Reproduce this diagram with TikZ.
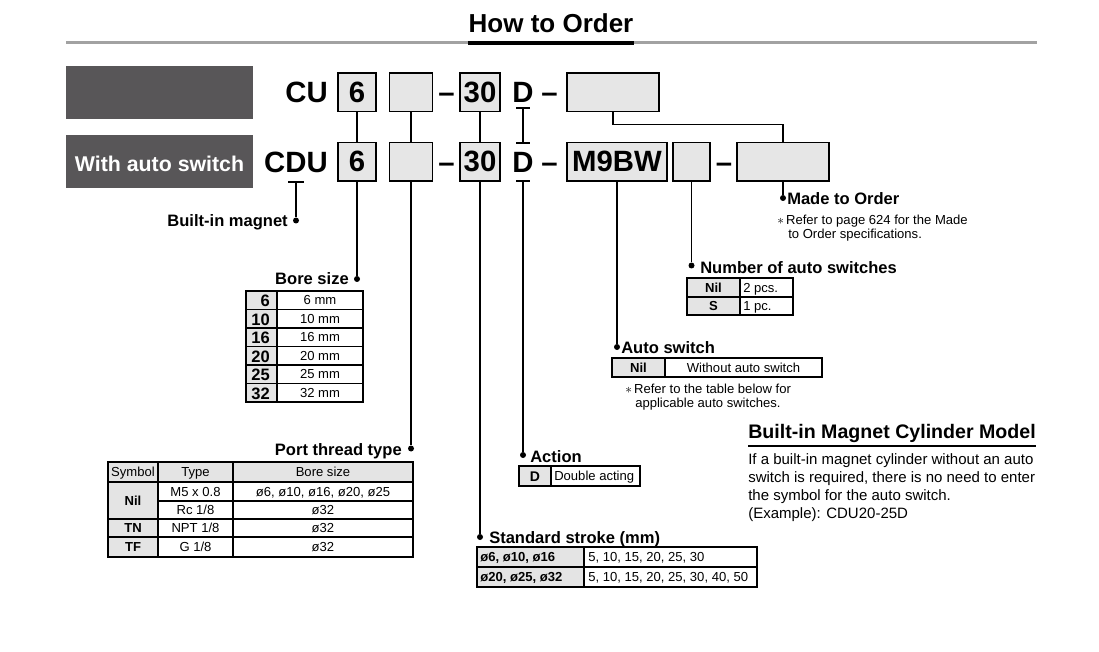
\documentclass[tikz,border=0pt]{standalone}
\usepackage{fontspec}
\setmainfont{Liberation Sans}
\definecolor{darkbox}{RGB}{88,86,88}
\definecolor{boxgray}{RGB}{230,230,230}
\definecolor{cellgray}{RGB}{228,228,228}
\definecolor{rulegray}{RGB}{162,162,162}
\begin{document}
\begin{tikzpicture}[x=0.75pt,y=-0.75pt,
  codebox/.style={draw=black, fill=boxgray, line width=1.1pt, inner sep=0pt,
    minimum height=28.9pt, font=\bfseries\fontsize{22}{22}\selectfont},
  codetxt/.style={inner sep=0pt, font=\bfseries\fontsize{22}{22}\selectfont},
  lbl/.style={inner sep=0pt, font=\bfseries\fontsize{12.4}{13}\selectfont},
  cell/.style={inner sep=0pt, font=\fontsize{9.8}{10}\selectfont},
  bcell/.style={inner sep=0pt, font=\bfseries\fontsize{9.8}{10}\selectfont},
  bnum/.style={inner sep=0pt, font=\bfseries\fontsize{12.4}{13}\selectfont},
  notetxt/.style={inner sep=0pt, font=\fontsize{9.8}{10}\selectfont},
  bodytxt/.style={inner sep=0pt, font=\fontsize{11.25}{13}\selectfont},
  conn/.style={line width=1pt},
  tline/.style={line width=0.9pt},
  pdot/.style={circle, fill=black, inner sep=0pt, minimum size=4.5pt},
  darkpanel/.style={fill=darkbox, inner sep=0pt, minimum width=140.25pt,
    minimum height=39.75pt},
  paneltxt/.style={inner sep=0pt, text=white, font=\bfseries\fontsize{16}{16}\selectfont}
]
\useasboundingbox (0,0) rectangle (1099,652);

% ---------- header ----------
\draw[rulegray, line width=2.8pt] (66,42.5) -- (1037,42.5);
\draw[black, line width=3pt] (468,43) -- (634,43);
\node[inner sep=0pt, anchor=base, font=\bfseries\fontsize{19.5}{20}\selectfont] (title) at (551,33) {How to Order};

% ---------- left panels ----------
\node[darkpanel, anchor=north west] (panelA) at (66,66) {};
\node[darkpanel, anchor=north west] (panelB) at (66,135) {};
\node[paneltxt, anchor=base] (panelBt) at (159.5,172) {With auto switch};

% ---------- row 1 ----------
\node[codetxt, anchor=base east] (cu) at (328,103) {CU};
\node[codebox, minimum width=28.5pt] (b1a) at (357,92.25) {6};
\node[codebox, minimum width=32.25pt] (b2a) at (411,92.25) {};
\node[codetxt, anchor=base] (dsa) at (446.5,103) {\textendash};
\node[codebox, minimum width=30pt] (b3a) at (480,92.25) {30};
\node[codetxt, anchor=base] (da) at (523,103) {D};
\node[codetxt, anchor=base] (dsb) at (549.5,103) {\textendash};
\node[codebox, minimum width=69pt] (b4a) at (613,92.25) {};

% ---------- row 2 ----------
\node[codetxt, anchor=base east] (cdu) at (328,173) {CDU};
\node[codebox, minimum width=28.5pt] (b1b) at (357,161.75) {6};
\node[codebox, minimum width=32.25pt] (b2b) at (411,161.75) {};
\node[codetxt, anchor=base] (dsc) at (446.5,173) {\textendash};
\node[codebox, minimum width=30pt] (b3b) at (480,161.75) {30};
\node[codetxt, anchor=base] (db) at (523,173) {D};
\node[codetxt, anchor=base] (dsd) at (549.5,173) {\textendash};
\node[codebox, minimum width=75pt] (b5) at (617,161.75) {M9BW};
\node[codebox, minimum width=27.75pt] (b6) at (691.5,161.75) {};
\node[codetxt, anchor=base] (dse) at (724,173) {\textendash};
\node[codebox, minimum width=69pt] (b7) at (783,161.75) {};

% ---------- connectors between rows ----------
\draw[conn] (b1a) -- (b1b);
\draw[conn] (b2a) -- (b2b);
\draw[conn] (b3a) -- (b3b);
\coordinate (dTop) at (523,108);
\coordinate (dMid) at (523,143);
\draw[conn] (dTop) -- (dMid);
\draw[conn] ([xshift=-5.25pt]dTop) -- ([xshift=5.25pt]dTop);
\draw[conn] ([xshift=-5.25pt]dMid) -- ([xshift=5.25pt]dMid);
\draw[conn] (b4a.south) -- ++(0,12.5) -| (b7.north);

% ---------- callouts ----------
\coordinate (cdD) at (296,182);
\draw[conn] ([xshift=-6pt]cdD) -- ([xshift=6pt]cdD);
\node[pdot] (pmag) at (296,220.5) {};
\draw[conn] (cdD) -- (pmag);
\node[lbl, anchor=base east] (lmag) at (288,227) {Built-in magnet};

\node[pdot] (pbore) at (357,279) {};
\draw[conn] (b1b) -- (pbore);
\node[lbl, anchor=base east] (lbore) at (349,285) {Bore size};

\node[pdot] (pport) at (411,448.5) {};
\draw[conn] (b2b) -- (pport);
\node[lbl, anchor=base east] (lport) at (402,455) {Port thread type};

\node[pdot] (pstroke) at (480,537) {};
\draw[conn] (b3b) -- (pstroke);
\node[lbl, anchor=base west] (lstroke) at (489,543) {Standard stroke (mm)};

\coordinate (dBot) at (523,181);
\draw[conn] ([xshift=-5.25pt]dBot) -- ([xshift=5.25pt]dBot);
\node[pdot] (pact) at (523,455) {};
\draw[conn] (dBot) -- (pact);
\node[lbl, anchor=base west] (lact) at (530,462) {Action};

\node[pdot] (pauto) at (617,347) {};
\draw[conn] (b5) -- (pauto);
\node[lbl, anchor=base west] (lauto) at (621,353) {Auto switch};

\node[pdot] (pnum) at (691.5,265.5) {};
\draw[conn] (b6) -- (pnum);
\node[lbl, anchor=base west] (lnum) at (700,273) {Number of auto switches};

\node[pdot] (pmto) at (783,198) {};
\draw[conn] (b7) -- (pmto);
\node[lbl, anchor=base west] (lmto) at (787,205) {Made to Order};
\node[notetxt, anchor=base west] (nmto1) at (777,224.5) {$\ast$\,Refer to page 624 for the Made};
\node[notetxt, anchor=base west] (nmto2) at (788,238.7) {to Order specifications.};

% ---------- bore size table ----------
\fill[cellgray] (246,291) rectangle (277,402);
\draw[tline] (246,291) rectangle (363,402);
\draw[tline] (277,291) -- (277,402);
\foreach \yy in {309.5,328,346.5,365,383.5} \draw[tline] (246,\yy) -- (363,\yy);
\foreach \v [count=\i] in {6,10,16,20,25,32} {
  \pgfmathsetmacro\yc{291+18.5*(\i-0.5)}
  \node[bnum, anchor=base east] (bn\i) at (270,\yc+6.5) {\v};
  \node[cell, anchor=base] (bm\i) at (320,\yc+4.7) {\v\ mm};
}

% ---------- port thread table ----------
\fill[cellgray] (108,462) rectangle (413,482);
\fill[cellgray] (108,482) rectangle (158,557);
\draw[tline] (108,462) rectangle (413,557);
\draw[tline] (158,462) -- (158,557);
\draw[tline] (233,462) -- (233,557);
\draw[tline] (108,482) -- (413,482);
\draw[tline] (158,501) -- (413,501);
\draw[tline] (108,519) -- (413,519);
\draw[tline] (108,537) -- (413,537);
\node[cell, anchor=base] (ph1) at (133,476.7) {Symbol};
\node[cell, anchor=base] (ph2) at (195.5,476.7) {Type};
\node[cell, anchor=base] (ph3) at (323,476.7) {Bore size};
\node[bcell, anchor=base] (pnil) at (133,505) {Nil};
\node[cell, anchor=base] (pm5) at (195.5,496.2) {M5 x 0.8};
\node[cell, anchor=base] (pm5b) at (323,496.2) {ø6, ø10, ø16, ø20, ø25};
\node[cell, anchor=base] (prc) at (195.5,514.7) {Rc 1/8};
\node[cell, anchor=base] (prcb) at (323,514.7) {ø32};
\node[bcell, anchor=base] (ptn) at (133,532.7) {TN};
\node[cell, anchor=base] (pnpt) at (195.5,532.7) {NPT 1/8};
\node[cell, anchor=base] (pnptb) at (323,532.7) {ø32};
\node[bcell, anchor=base] (ptf) at (133,551.7) {TF};
\node[cell, anchor=base] (pg) at (195.5,551.7) {G 1/8};
\node[cell, anchor=base] (pgb) at (323,551.7) {ø32};

% ---------- number of auto switches table ----------
\fill[cellgray] (687,278) rectangle (740,315);
\draw[tline] (687,278) rectangle (793,315);
\draw[tline] (740,278) -- (740,315);
\draw[tline] (687,297) -- (793,297);
\node[bcell, anchor=base] (nnil) at (713.5,292.2) {Nil};
\node[cell, anchor=base west] (n2) at (743,292.2) {2 pcs.};
\node[bcell, anchor=base] (ns) at (713.5,310.7) {S};
\node[cell, anchor=base west] (n1) at (743,310.7) {1 pc.};

% ---------- auto switch table ----------
\fill[cellgray] (612,358) rectangle (665,377);
\draw[tline] (612,358) rectangle (822,377);
\draw[tline] (665,358) -- (665,377);
\node[bcell, anchor=base] (anil) at (638.5,372.2) {Nil};
\node[cell, anchor=base] (awo) at (743.5,372.2) {Without auto switch};
\node[notetxt, anchor=base west] (an1) at (625,393) {$\ast$\,Refer to the table below for};
\node[notetxt, anchor=base west] (an2) at (635,407.5) {applicable auto switches.};

% ---------- action table ----------
\fill[cellgray] (519,466) rectangle (551,486);
\draw[tline] (519,466) rectangle (640,486);
\draw[tline] (551,466) -- (551,486);
\node[inner sep=0pt, anchor=base, font=\bfseries\fontsize{10.5}{11}\selectfont] (ad) at (535,481.2) {D};
\node[cell, anchor=base west] (adbl) at (554,480.7) {Double acting};

% ---------- stroke table ----------
\fill[cellgray] (477,547) rectangle (584,587);
\draw[tline] (477,547) rectangle (757,587);
\draw[tline] (584,547) -- (584,587);
\draw[tline] (477,567) -- (757,567);
\node[bcell, anchor=base west] (s1) at (480,561.7) {ø6, ø10, ø16};
\node[cell, anchor=base west] (s1v) at (588,561.7) {5, 10, 15, 20, 25, 30};
\node[bcell, anchor=base west] (s2) at (480,581.7) {ø20, ø25, ø32};
\node[cell, anchor=base west] (s2v) at (588,581.7) {5, 10, 15, 20, 25, 30, 40, 50};

% ---------- built-in magnet cylinder model ----------
\node[inner sep=0pt, anchor=base west, font=\bfseries\fontsize{14.7}{15}\selectfont] (bmt) at (748,438) {Built-in Magnet Cylinder Model};
\draw[line width=1.5pt] (748,446) -- (1036,446);
\node[bodytxt, anchor=base west] (bm1) at (748,464.5) {If a built-in magnet cylinder without an auto};
\node[bodytxt, anchor=base west] (bm2) at (748,482.2) {switch is required, there is no need to enter};
\node[bodytxt, anchor=base west] (bm3) at (748,500) {the symbol for the auto switch.};
\node[bodytxt, anchor=base west] (bm4) at (748,518) {(Example): CDU20-25D};
\end{tikzpicture}
\end{document}
